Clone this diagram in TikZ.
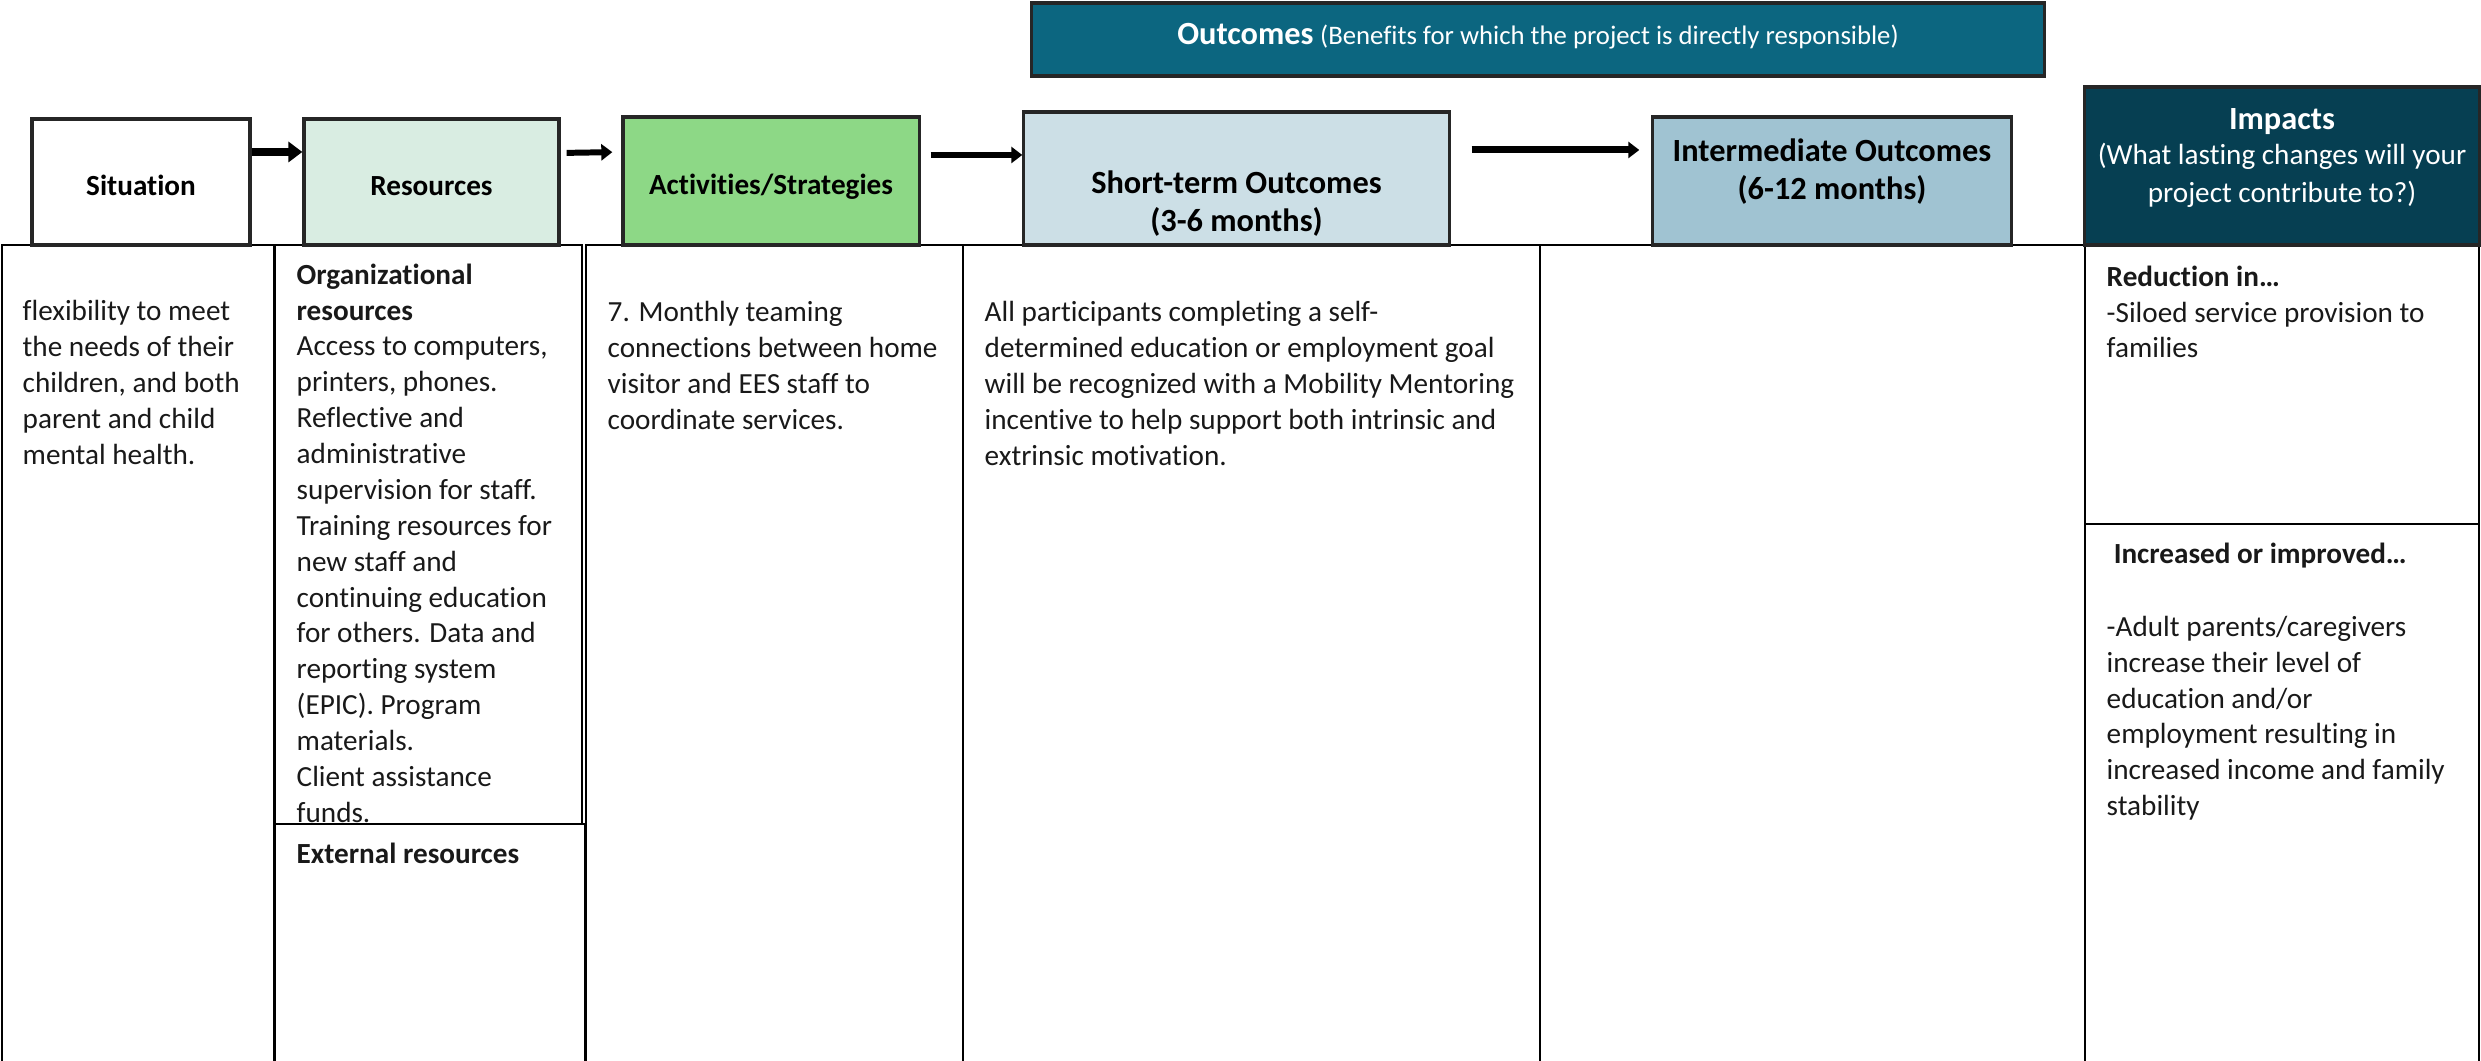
\documentclass[tikz,border=0pt]{standalone}
\usepackage{fontspec}
\setmainfont{Carlito}[Ligatures=NoCommon]
\usetikzlibrary{arrows.meta,positioning}

\definecolor{outteal}{HTML}{0C6680}
\definecolor{impnavy}{HTML}{063F52}
\definecolor{resgreen}{HTML}{D9EDE2}
\definecolor{actgreen}{HTML}{8DD886}
\definecolor{shortblue}{HTML}{CCDFE6}
\definecolor{midblue}{HTML}{A0C3D2}

\tikzset{
  hdr/.style={draw=black!85, line width=0.9pt, inner sep=0pt, align=center,
    text height=7.4pt, text depth=0pt, font=\fontsize{8.3}{10}\selectfont\bfseries},
  bigtxt/.style={inner sep=0pt, align=center, font=\fontsize{9.2}{10.8}\selectfont\bfseries},
  col/.style={draw=black, line width=0.6pt},
  body/.style={anchor=north west, inner sep=0pt, align=left,
    font=\fontsize{8.3}{10.2}\selectfont, text=black!90},
  flow/.style={-{Triangle[length=0.14cm,width=0.2cm]}, line width=2.4pt},
  thinflow/.style={-{Triangle[length=0.11cm,width=0.16cm]}, line width=1.7pt}
}
\newcommand{\impsub}{\fontsize{8.3}{10.2}\selectfont\mdseries}

\begin{document}
\begin{tikzpicture}[x=0.01cm,y=-0.01cm]
    \useasboundingbox (0,0) rectangle (2481,1061);
    \clip (0,0) rectangle (2481,1061);

    % columns below the headings
    \draw[col] (2,245) rectangle (274,1100);
    \draw[col] (586,245) rectangle (963,1100);
    \draw[col] (963,245) rectangle (1540,1100);
    \draw[col] (1540,245) rectangle (2085,1100);
    \draw[col] (2085,245) rectangle (2479,524);
    \draw[col] (2085,524) rectangle (2479,1100);
    \draw[col] (275,245) rectangle (582,824);

    % column texts
    \node[body] (sitbody) at (22,300) {flexibility to meet\\the needs of their\\children, and both\\parent and child\\mental health.};
    \node[body] (orgbody) at (296,263) {\textbf{Organizational}\\\textbf{resources}\\Access to computers,\\printers, phones.\\Reflective and\\administrative\\supervision for staff.\\Training resources for\\new staff and\\continuing education\\for others. Data and\\reporting system\\(EPIC). Program\\materials.\\Client assistance\\funds.};
    \draw[col] (275,824) rectangle (585,1100);
    \node[body] (extbody) at (296,842) {\textbf{External resources}};
    \node[body] (actbody) at (607,301) {7. Monthly teaming\\connections between home\\visitor and EES staff to\\coordinate services.};
    \node[body] (shortbody) at (984,301) {All participants completing a self-\\determined education or employment goal\\will be recognized with a Mobility Mentoring\\incentive to help support both intrinsic and\\extrinsic motivation.};
    \node[body] (redbody) at (2106,265) {\textbf{Reduction in…}\\-Siloed service provision to\\families};
    \node[body] (incbody) at (2106,542) {\hspace*{2pt}\textbf{Increased or improved…}\\[10.6pt]-Adult parents/caregivers\\increase their level of\\education and/or\\employment resulting in\\increased income and family\\stability};

    % headings
    \node[hdr, fill=outteal, text=white, minimum width=10.12cm, minimum height=0.73cm] (outc) at (1538,39.5)
      {\raisebox{2.3pt}{\fontsize{9.2}{11}\selectfont Outcomes} \raisebox{2.3pt}{\fontsize{7.6}{8}\selectfont\mdseries (Benefits for which the project is directly responsible)}};

    \node[hdr, fill=white, minimum width=2.18cm, minimum height=1.26cm] (sit) at (141,182) {Situation};
    \node[hdr, fill=resgreen, minimum width=2.55cm, minimum height=1.26cm] (res) at (431.5,182) {Resources};
    \node[hdr, fill=actgreen, minimum width=2.96cm, minimum height=1.28cm] (act) at (771,181) {Activities/Strategies};
    \node[hdr, fill=shortblue, minimum width=4.25cm, minimum height=1.33cm] (short) at (1236.5,178.5) {};
    \node[bigtxt] (shorttxt) at ([yshift=-0.25cm]short.center) {Short-term Outcomes\\(3-6 months)};
    \node[hdr, fill=midblue, minimum width=3.58cm, minimum height=1.28cm] (mid) at (1832,181) {};
    \node[bigtxt] (midtxt) at ([yshift=0.09cm]mid.center) {Intermediate Outcomes\\(6-12 months)};
    \node[hdr, fill=impnavy, minimum width=3.94cm, minimum height=1.58cm] (imp) at (2282,166) {};
    \node[bigtxt, text=white] (imptxt) at ([yshift=0.08cm]imp.center)
      {Impacts\\[-0.6pt]\impsub (What lasting changes will your\\\impsub project contribute to?)};

    % arrows between headings
    \draw[flow] ([yshift=0.3cm]sit.east) -- ([yshift=0.3cm]res.west);
    \draw[thinflow, shorten <=0.06cm, shorten >=0.09cm] ([yshift=0.29cm]res.east) -- ([yshift=0.29cm]act.west);
    \draw[thinflow, shorten <=0.1cm] ([yshift=0.26cm]act.east) -- ([yshift=0.26cm]act.east -| short.west);
    \draw[thinflow, line width=2pt, shorten <=0.21cm, shorten >=0.12cm] ([yshift=0.285cm]short.east) -- ([yshift=0.285cm]short.east -| mid.west);
\end{tikzpicture}
\end{document}
